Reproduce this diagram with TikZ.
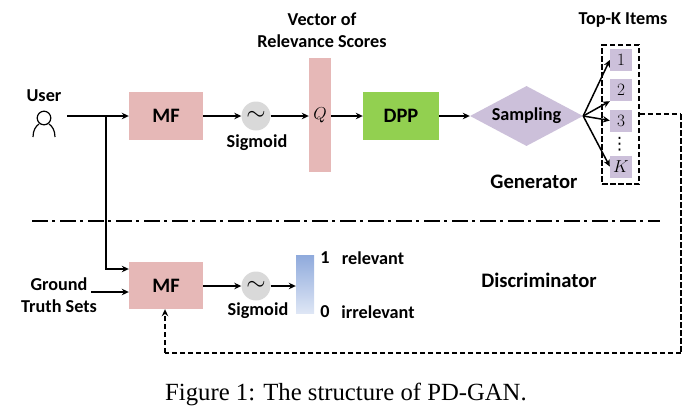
\documentclass[tikz,border=0pt]{standalone}
\usepackage{fontspec}
\usepackage{amsmath}
\setmainfont{Carlito}
\newfontfamily\capfont{Liberation Serif}
\newfontfamily\symfont{DejaVu Sans}
\usetikzlibrary{arrows.meta,shapes.geometric,calc}
\definecolor{mfpink}{RGB}{230,184,183}
\definecolor{dppgreen}{RGB}{146,208,80}
\definecolor{lilac}{RGB}{204,192,218}
\definecolor{sigray}{RGB}{217,217,217}
\definecolor{bartop}{RGB}{143,170,220}
\definecolor{barbot}{RGB}{222,230,245}
\tikzset{
  x=1pt,y=-1pt,
  arr/.style={-{Stealth[length=7pt,width=6.5pt]},line width=1.3pt,black},
  mfbox/.style={fill=mfpink,draw=none,minimum width=74pt,inner sep=0pt,font=\fontsize{20.5}{20.5}\selectfont\bfseries},
  sigcirc/.style={circle,fill=sigray,draw=none,minimum size=29pt,inner sep=0pt,font=\fontsize{26}{26}\selectfont},
  lab/.style={font=\fontsize{18.2}{21.5}\selectfont\bfseries,inner sep=0pt,align=center},
  biglab/.style={font=\fontsize{20.6}{20.6}\selectfont\bfseries,inner sep=0pt,align=center},
  itembox/.style={fill=lilac,draw=none,minimum width=22pt,minimum height=22pt,inner sep=0pt,font=\fontsize{18}{18}\selectfont},
  dashb/.style={line width=1.5pt,dash pattern=on 5.5pt off 2.5pt},
  dashthick/.style={line width=2.6pt,dash pattern=on 6pt off 2pt},
  dashthin/.style={line width=1.4pt,dash pattern=on 5.5pt off 2.5pt},
}
\begin{document}
\begin{tikzpicture}
\useasboundingbox (0,0) rectangle (697,416);
% generator nodes
\node[mfbox,minimum height=48pt] (mfa) at (166,116) {MF};
\node[sigcirc] (siga) at (256,116) {$\sim$};
\node[fill=mfpink,minimum width=22pt,minimum height=114pt,inner sep=0pt,font=\fontsize{17}{17}\selectfont] (qbar) at (320,115) {$Q$};
\node[fill=dppgreen,minimum width=76pt,minimum height=48pt,inner sep=0pt,font=\fontsize{20.5}{20.5}\selectfont\bfseries] (dpp) at (401,116) {DPP};
\node[diamond,fill=lilac,aspect=1.88,minimum width=113pt,minimum height=60pt,inner sep=0pt,font=\fontsize{18.2}{18.2}\selectfont\bfseries] (samp) at (526.5,116) {Sampling};
\node[draw,dashb,minimum width=37pt,minimum height=139pt,inner sep=0pt] (items) at (620.5,114.5) {};
\node[itembox] (i1) at (621,60) {$1$};
\node[itembox] (i2) at (621,90) {$2$};
\node[itembox] (i3) at (621,120.5) {$3$};
\node[itembox] (ik) at (621,166.5) {$K$};
\node[inner sep=0pt,font=\symfont\fontsize{17}{17}\selectfont] (dots) at (619.5,144) {⋮};
% labels
\node[lab] (user) at (44,96) {User};
\node[lab] (vec) at (322,30) {Vector of\\Relevance Scores};
\node[lab] (topk) at (623,20) {Top-K Items};
\node[lab] (sa) at (257,143) {Sigmoid};
\node[biglab] (gen) at (534,182) {Generator};
\node[biglab] (disc) at (539,280) {Discriminator};
% user icon
\draw[line width=1.2pt] (44,118) circle (6.8pt);
\draw[line width=1.2pt] (33,137) .. controls (33,130) and (36,126) .. (39,124);
\draw[line width=1.2pt] (55,137) .. controls (55,130) and (52,126) .. (49,124);
% discriminator nodes
\node[mfbox,minimum height=47pt] (mfb) at (166,285.5) {MF};
\node[sigcirc] (sigb) at (256,286) {$\sim$};
\node[inner sep=0pt,minimum width=18pt,minimum height=58pt,top color=bartop,bottom color=barbot,draw=none] (rbar) at (305,284) {};
\node[lab] (gt) at (59,295) {Ground\\Truth Sets};
\node[lab] (sb) at (258,311) {Sigmoid};
\node[lab] (one) at (325,258) {1};
\node[lab] (zero) at (325,312) {0};
\node[lab] (rel) at (373,258) {relevant};
\node[lab] (irr) at (378,312) {irrelevant};
% connectors
\coordinate (ustart) at (67,116);
\coordinate (branch) at (106,116);
\coordinate (gtstart) at (91,292);
\draw[arr,line width=1.6pt] (ustart) -- (mfa.west);
\draw[arr,line width=1.1pt] (branch) |- ($(mfb.west)+(0,-16.5)$);
\draw[arr] (mfa.east) -- (siga.west);
\draw[arr] (siga.east) -- (qbar.west |- siga);
\draw[arr] (qbar.east |- dpp) -- (dpp.west);
\draw[arr] (dpp.east) -- (samp.west);
\coordinate (fan) at (samp.east);
\draw[arr,line width=1.5pt] (fan) -- (i1.west);
\draw[arr,line width=1.5pt] (fan) -- (i2.south west);
\draw[arr,line width=1.5pt] (fan) -- (i3.west);
\draw[arr,line width=1.5pt] (fan) -- (ik.west);
\draw[arr] (gtstart) -- (mfb.west |- gtstart);
\draw[arr,line width=1.6pt] (mfb.east |- sigb) -- (sigb.west);
\draw[arr] (sigb.east) -- (rbar.west |- sigb);
\coordinate (ca) at (681,114);
\coordinate (cb) at (681,353);
\coordinate (cc) at (165,353);
\draw[dashb] (items.east |- ca) -- (ca);
\draw[dashthick] (ca) -- (cb);
\draw[dashthin] (cb) -- (cc);
\draw[dashthin,-{Stealth[length=7pt,width=6.5pt]}] (cc) -- (cc |- mfb.south);
% separator
\coordinate (sl) at (32,221);
\coordinate (sr) at (660,221);
\draw[line width=1.3pt,dash pattern=on 16pt off 4pt on 3pt off 5pt] (sl) -- (sr);
% caption
\node[inner sep=0pt,font=\capfont\fontsize{24.7}{26}\selectfont] (cap) at (346,394) {Figure 1: The structure of PD-GAN.};
\end{tikzpicture}
\end{document}
